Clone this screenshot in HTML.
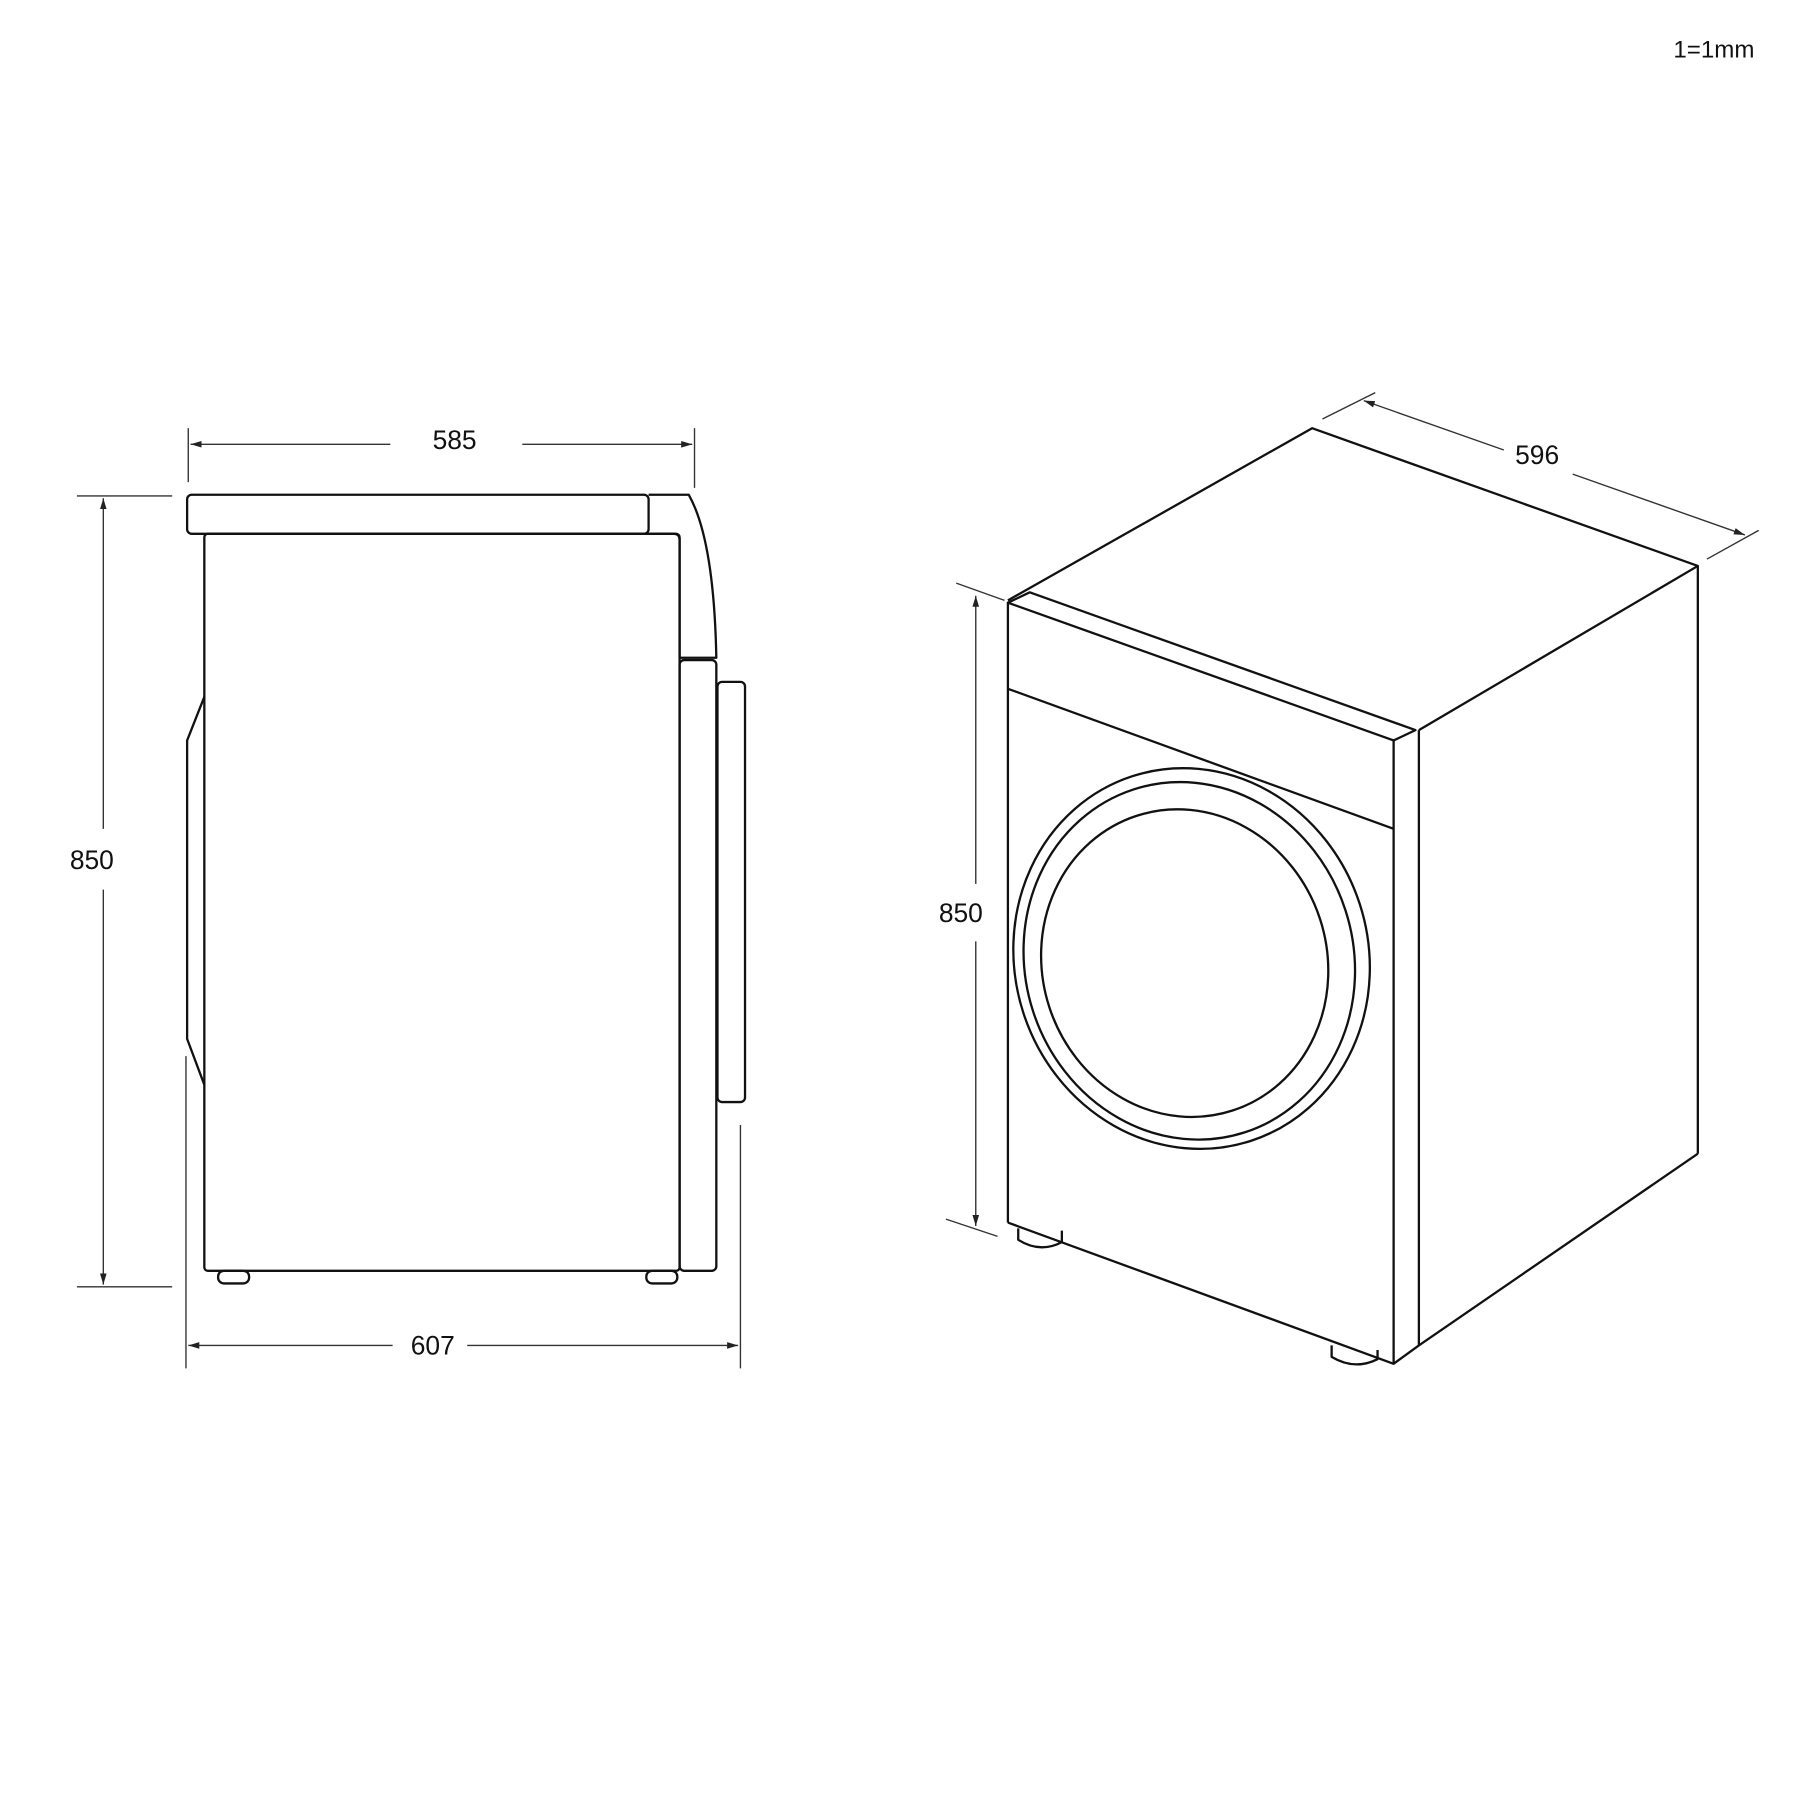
<!DOCTYPE html>
<html><head><meta charset="utf-8"><style>html,body{margin:0;padding:0;background:#fff}svg{display:block}</style></head>
<body>
<svg width="1800" height="1800" viewBox="0 0 1568 1568" xmlns="http://www.w3.org/2000/svg" font-family="Liberation Sans, sans-serif">
<defs><marker id="a" viewBox="0 0 10 10" refX="10" refY="5" markerWidth="8" markerHeight="8" orient="auto-start-reverse"><path d="M0,2 L10,5 L0,8z" fill="#222"/></marker></defs>
<rect width="1568" height="1568" fill="#fff"/>
<text x="1493" y="50" font-size="21" text-anchor="middle" fill="#111">1=1mm</text>
<g stroke="#333" stroke-width="1.2" fill="none">
<line x1="164" y1="373" x2="164" y2="420"/><line x1="605" y1="373" x2="605" y2="425"/>
<line x1="166" y1="387" x2="340" y2="387" marker-start="url(#a)"/><line x1="455" y1="387" x2="603" y2="387" marker-end="url(#a)"/>
<line x1="67" y1="432" x2="150" y2="432"/><line x1="67" y1="1121" x2="150" y2="1121"/>
<line x1="90" y1="434" x2="90" y2="722" marker-start="url(#a)"/><line x1="90" y1="775" x2="90" y2="1119" marker-end="url(#a)"/>
<line x1="162" y1="920" x2="162" y2="1192"/><line x1="645" y1="980" x2="645" y2="1192"/>
<line x1="164" y1="1172" x2="342" y2="1172" marker-start="url(#a)"/><line x1="407" y1="1172" x2="643" y2="1172" marker-end="url(#a)"/>
<line x1="1152" y1="365" x2="1198" y2="342"/><line x1="1487" y1="487" x2="1532" y2="462"/>
<line x1="1188" y1="349" x2="1310" y2="392" marker-start="url(#a)"/><line x1="1370" y1="413" x2="1520" y2="466" marker-end="url(#a)"/>
<line x1="833" y1="508" x2="875" y2="523"/><line x1="824" y1="1062" x2="869" y2="1077"/>
<line x1="850" y1="519" x2="850" y2="770" marker-start="url(#a)"/><line x1="850" y1="820" x2="850" y2="1068" marker-end="url(#a)"/>
</g>
<g font-size="23" fill="#111" text-anchor="middle">
<text x="396" y="391">585</text><text x="80" y="757">850</text><text x="377" y="1180">607</text>
<text x="1339" y="404">596</text><text x="837" y="803">850</text>
</g>
<g stroke="#111" stroke-width="2" fill="none" stroke-linejoin="round">
<rect x="163" y="431" width="402" height="34" rx="4"/>
<path d="M565,431 L600,431 Q622,470 624,573 L592,573 L592,470 Q592,465 587,465 L565,465"/>
<rect x="178" y="465" width="414" height="642" rx="3"/>
<rect x="592" y="575" width="32" height="532" rx="4"/>
<rect x="625" y="594" width="24" height="366" rx="4"/>
<path d="M178,607 L163,645 L163,905 L178,945"/>
<rect x="190" y="1107" width="27" height="11" rx="5"/>
<rect x="563" y="1107" width="27" height="11" rx="5"/>
<path d="M878,523 L1143,373 L1479,493 L1236,636"/>
<path d="M897,516 L1233,636 L1214,645 L878,525 Z"/>
<line x1="878" y1="525" x2="878" y2="1065"/>
<line x1="1214" y1="645" x2="1214" y2="1188"/>
<line x1="1236" y1="636" x2="1236" y2="1172"/>
<line x1="1479" y1="493" x2="1479" y2="1005"/>
<path d="M878,1065 L1214,1188 L1236,1172 L1479,1005"/>
<line x1="878" y1="600" x2="1214" y2="722"/>
<ellipse cx="1038" cy="835" rx="154" ry="167" transform="rotate(-18 1038 835)"/>
<ellipse cx="1036" cy="837" rx="143" ry="157" transform="rotate(-18 1036 837)"/>
<ellipse cx="1032" cy="839" rx="124" ry="135" transform="rotate(-18 1032 839)"/>
<path d="M887,1070 L887,1080 Q906,1092 925,1082 L925,1072"/>
<path d="M1160,1172 L1160,1182 Q1180,1194 1200,1184 L1200,1176"/>
</g>
</svg>
</body></html>
